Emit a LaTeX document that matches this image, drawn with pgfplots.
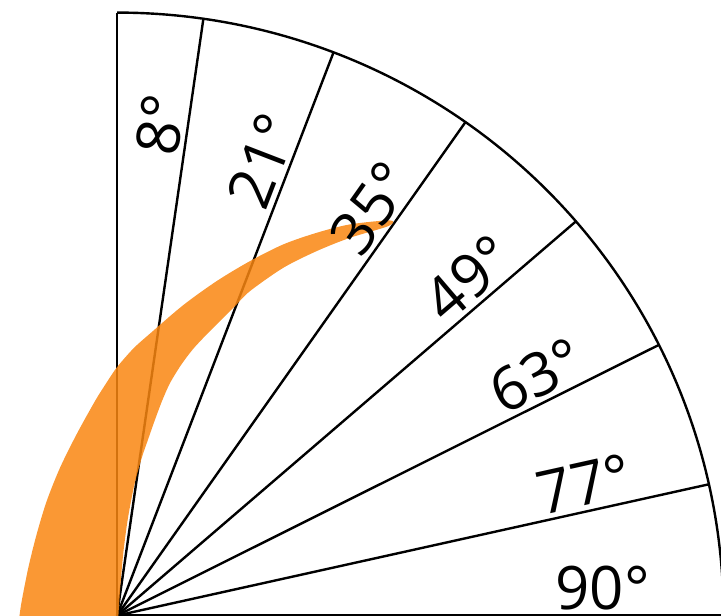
\documentclass[border=0pt]{standalone}
\usepackage{fontspec}
\setmainfont{Open Sans}
\usepackage{pgfplots}
\pgfplotsset{compat=1.18}
\definecolor{orangefill}{RGB}{249,134,17}
\begin{document}
\begin{tikzpicture}
\begin{axis}[
  x=0.75pt, y=0.75pt,
  xmin=-117, xmax=604, ymin=-0.4, ymax=615.6,
  hide axis,
  clip=true,
]
% radial grid lines (sector boundaries)
\addplot[black, line width=1.8pt] coordinates {(0,0) (0,603)};
\addplot[black, line width=1.8pt] coordinates {(0,0) (86.3,596.2)};
\addplot[black, line width=1.8pt] coordinates {(0,0) (216.3,562.6)};
\addplot[black, line width=1.8pt] coordinates {(0,0) (348.4,493.4)};
\addplot[black, line width=1.8pt] coordinates {(0,0) (459,394.3)};
\addplot[black, line width=1.8pt] coordinates {(0,0) (542.3,270.9)};
\addplot[black, line width=1.8pt] coordinates {(0,0) (592.3,131.4)};
\addplot[black, line width=1.8pt] coordinates {(0,0) (612,0)};
% outer arc
\draw[black, line width=1.8pt] (axis cs:0,603) arc[start angle=90, end angle=-2, x radius=454.875pt, y radius=452.25pt];
% orange band
\addplot[draw=none, fill=orangefill, fill opacity=0.85, smooth] coordinates {
(-99.5,-15.5) (-97.7,-1.5) (-95.3,14.5) (-88.7,47.8) (-80.3,81.5) (-70.3,114.5)
(-57,147.8) (-40.3,181.5) (-22,214.5) (-12,230.5) (-0.3,248) (16.3,267) (33,282)
(66.3,310.5) (99.7,334.5) (133,354.5) (166.3,371.2) (199.7,382.8) (233,391.2) (273,395.2)
(271.3,389.5) (233,377.8) (199.7,364.5) (166.3,347.8) (133,324.5) (119,310.5)
(106.3,297.8) (90,281.5) (76,266.5) (64,250.5) (53,232.5) (45,214.5) (37.5,194.5)
(30.5,174.5) (25,158.5) (17.5,131.5) (11,97.8) (6.5,64.5) (3.5,31.5) (1.5,1.5) (1,-15.5)
};
% angle labels
\tikzset{lab/.style={anchor=base east, inner sep=0pt, font=\fontsize{45}{50}\selectfont}}
\node[lab, rotate=81.75] at (axis cs:69.0,517.5) {8°};
\node[lab, rotate=68.94] at (axis cs:182.7,491.2) {21°};
\node[lab, rotate=54.74] at (axis cs:299.3,433.8) {35°};
\node[lab, rotate=40.6] at (axis cs:401.6,352.1) {49°};
\node[lab, rotate=26.5] at (axis cs:471.6,241.9) {63°};
\node[lab, rotate=12.5] at (axis cs:518.1,121.0) {77°};
\node[lab, rotate=0] at (axis cs:533,6) {90°};
\coordinate (BL) at (axis cs:-117,-0.4);
\coordinate (TR) at (axis cs:604,615.6);
\end{axis}
\pgfresetboundingbox
\path (BL) rectangle (TR);
\end{tikzpicture}
\end{document}
